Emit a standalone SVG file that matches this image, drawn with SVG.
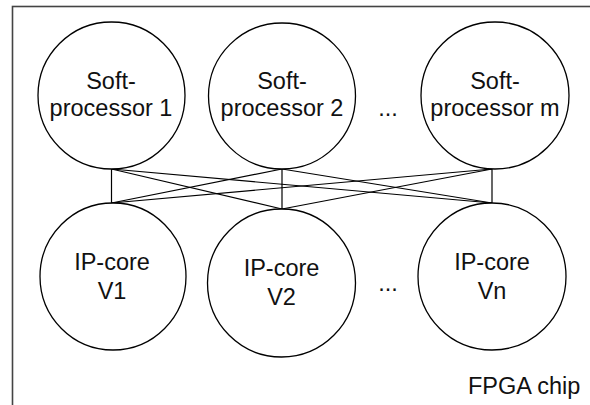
<svg xmlns="http://www.w3.org/2000/svg" width="590" height="405" viewBox="0 0 590 405">
<style>
.node ellipse{fill:#fff;stroke:#000;stroke-width:1.3}
.t{font-family:"Liberation Sans",Arial,sans-serif;font-size:23.5px;fill:#111;text-anchor:middle}
.edges line{stroke:#000;stroke-width:1.2}
</style>
<rect x="12.5" y="6.5" width="600" height="420" fill="#fff" stroke="#444" stroke-width="1.6"/>
<g class="edges">
<line x1="111.5" y1="169" x2="111.5" y2="203"/>
<line x1="111.5" y1="169" x2="282" y2="209"/>
<line x1="111.5" y1="169" x2="492" y2="203"/>
<line x1="282" y1="169" x2="111.5" y2="203"/>
<line x1="282" y1="169" x2="282" y2="209"/>
<line x1="282" y1="169" x2="492" y2="203"/>
<line x1="492" y1="169" x2="111.5" y2="203"/>
<line x1="492" y1="169" x2="282" y2="209"/>
<line x1="492" y1="169" x2="492" y2="203"/>
</g>
<g id="sp1" class="node"><ellipse cx="111.5" cy="95.5" rx="73.5" ry="73.5"/><text class="t" x="111" y="88.5">Soft-</text><text class="t" x="111" y="116">processor 1</text></g>
<g id="sp2" class="node"><ellipse cx="282" cy="96" rx="73.5" ry="73"/><text class="t" x="282" y="88.5">Soft-</text><text class="t" x="282" y="116">processor 2</text></g>
<g id="spm" class="node"><ellipse cx="495" cy="95.5" rx="74" ry="73.5"/><text class="t" x="495" y="88.5">Soft-</text><text class="t" x="495" y="116">processor m</text></g>
<text class="t" x="388" y="116">...</text>
<g id="ip1" class="node"><ellipse cx="113" cy="276.5" rx="73" ry="73.5"/><text class="t" x="112" y="270">IP-core</text><text class="t" x="112" y="299">V1</text></g>
<g id="ip2" class="node"><ellipse cx="281.5" cy="283" rx="74" ry="74"/><text class="t" x="281.5" y="276">IP-core</text><text class="t" x="281.5" y="305">V2</text></g>
<g id="ipn" class="node"><ellipse cx="492" cy="276.5" rx="74" ry="73.5"/><text class="t" x="492" y="270">IP-core</text><text class="t" x="492" y="299">Vn</text></g>
<text class="t" x="388" y="291">...</text>
<text class="t" x="468" y="393.5" style="text-anchor:start">FPGA chip</text>
</svg>
